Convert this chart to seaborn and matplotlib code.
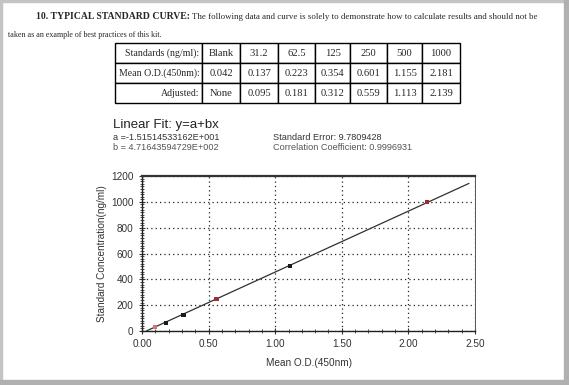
# Standard curve figure: header text, data table and linear fit plot
import numpy as np
import pandas as pd
import seaborn as sns
import matplotlib
matplotlib.use('Agg')
import matplotlib.pyplot as plt
from matplotlib.patches import Rectangle
from matplotlib.ticker import MultipleLocator, FormatStrFormatter

# Data from the table:
standards_lbl = ["Blank", "31.2", "62.5", "125", "250", "500", "1000"]
mean_od = ["0.042", "0.137", "0.223", "0.354", "0.601", "1.155", "2.181"]
adjusted_lbl = ["None", "0.095", "0.181", "0.312", "0.559", "1.113", "2.139"]

# Points on the curve (blank left out):
conc = [31.2, 62.5, 125, 250, 500, 1000]
adj_od = [0.095, 0.181, 0.312, 0.559, 1.113, 2.139]
pt_color = ['#d9707a', '#1a1a1a', '#1a1a1a', '#a03030', '#1a1a1a', '#a02828']

# Fit results shown above the plot:
fit_a = -1.51514533162E+001
fit_b = 4.71643594729E+002
std_err = 9.7809428
corr = 0.9996931


def sci3(v):
    # 12 significant digits, 3 digit exponent like the original software
    m, e = ("%.11E" % v).split("E")
    return "%sE%s%03d" % (m, e[0], abs(int(e)))


sns.set_style('ticks')
plt.rcParams['font.family'] = ['Liberation Sans', 'DejaVu Sans']
serif = ['Liberation Serif', 'DejaVu Serif']

fig = plt.figure(figsize=(5.69, 3.85), dpi=100)
fig.patch.set_facecolor('white')

# gray frame round the page
fig.patches.append(Rectangle((0, 0), 2 / 569, 1, transform=fig.transFigure, color='#c4c4c4', zorder=0))
fig.patches.append(Rectangle((0, 1 - 2 / 385), 1, 2 / 385, transform=fig.transFigure, color='#c4c4c4', zorder=0))
fig.patches.append(Rectangle((1 - 5 / 569, 0), 5 / 569, 1, transform=fig.transFigure, color='#b0b0b0', zorder=0))
fig.patches.append(Rectangle((0, 0), 1, 5 / 385, transform=fig.transFigure, color='#b0b0b0', zorder=0))

renderer = fig.canvas.get_renderer()


def fit_text(x0, x1, y, s, size, **kw):
    # size the font so the line spans x0..x1 pixels (the scan uses a narrow face)
    t = fig.text(x0 / 569, 1 - y / 385, s, family=serif, va='baseline', ha='left', fontsize=size, **kw)
    w = t.get_window_extent(renderer).width
    t.set_fontsize(min(size * 1.15, size * (x1 - x0) / w))
    return t


fit_text(36, 189, 19, "10. TYPICAL STANDARD CURVE:", 8, fontweight='bold')
fit_text(192, 535, 19, "The following data and curve is solely to demonstrate how to calculate results and should not be", 8)
fit_text(8, 162, 37, "taken as an example of best practices of this kit.", 8)

# Table
tab_ax = fig.add_axes([115 / 569, 1 - 103 / 385, (460 - 115) / 569, 60 / 385])
tab_ax.axis('off')
cells = [["Standards (ng/ml):"] + standards_lbl,
         ["Mean O.D.(450nm):"] + mean_od,
         ["Adjusted:"] + adjusted_lbl]
col_px = [87, 38, 38, 37, 35, 37, 35, 38]
widths = [w / sum(col_px) for w in col_px]
tbl = tab_ax.table(cellText=cells, colWidths=widths, cellLoc='center', bbox=[0, 0, 1, 1])
tbl.auto_set_font_size(False)
for (r, c), cell in tbl.get_celld().items():
    cell.set_linewidth(1.0)
    cell.set_edgecolor('black')
    cell.get_text().set_fontsize(7.6 if c > 0 else 7.1)
    cell.get_text().set_fontfamily(serif)
    if c == 0:
        cell.get_text().set_ha('right')
        cell.PAD = 0.03

# Fit parameter text
fig.text(113 / 569, 1 - 128 / 385, "Linear Fit: y=a+bx", fontsize=9.5, color='#222222', va='baseline')
fig.text(113 / 569, 1 - 140 / 385, "a =" + sci3(fit_a), fontsize=6.6, color='#333333', va='baseline')
fig.text(113 / 569, 1 - 150 / 385, "b = " + sci3(fit_b), fontsize=6.6, color='#555555', va='baseline')
fig.text(273 / 569, 1 - 140 / 385, "Standard Error: %.7f" % std_err, fontsize=6.6, color='#333333', va='baseline')
fig.text(273 / 569, 1 - 150 / 385, "Correlation Coefficient: %.7f" % corr, fontsize=6.6, color='#555555', va='baseline')

# Plot
ax = fig.add_axes([142 / 569, 1 - 331 / 385, (475 - 142) / 569, (331 - 176) / 385])
xs = np.linspace(-fit_a / fit_b, 2.455, 50)
line_df = pd.DataFrame({'od': xs, 'conc': fit_a + fit_b * xs})
sns.lineplot(data=line_df, x='od', y='conc', ax=ax, color='#303030', linewidth=0.9, zorder=3)
pts = pd.DataFrame({'od': adj_od, 'conc': conc})
sns.scatterplot(data=pts, x='od', y='conc', ax=ax, marker='s', s=9, c=pt_color,
                edgecolor='none', zorder=4)

ax.set_xlim(0, 2.5)
ax.set_ylim(0, 1200)
ax.xaxis.set_major_locator(MultipleLocator(0.5))
ax.xaxis.set_minor_locator(MultipleLocator(0.1))
ax.yaxis.set_major_locator(MultipleLocator(200))
ax.yaxis.set_minor_locator(MultipleLocator(20))
ax.xaxis.set_major_formatter(FormatStrFormatter('%.2f'))
ax.grid(True, which='major', color='#222222', linestyle=(0, (1, 2.5)), linewidth=0.9)
ax.tick_params(which='major', direction='inout', length=5, width=0.8, labelsize=7.2,
               labelcolor='#333333', color='#333333')
ax.tick_params(which='minor', direction='inout', length=2.5, width=0.6, color='#333333')
for side in ['left', 'bottom']:
    ax.spines[side].set_linewidth(1.0)
    ax.spines[side].set_color('#222222')
ax.spines['top'].set_linewidth(1.6)
ax.spines['top'].set_color('#333333')
ax.spines['right'].set_linewidth(0.7)
ax.spines['right'].set_color('#555555')
ax.set_xlabel("Mean O.D.(450nm)", fontsize=7.2, color='#333333', labelpad=6)
ax.set_ylabel("Standard Concentration(ng/ml)", fontsize=7.2, color='#333333', labelpad=3)

fig.savefig('out.png', dpi=100)
